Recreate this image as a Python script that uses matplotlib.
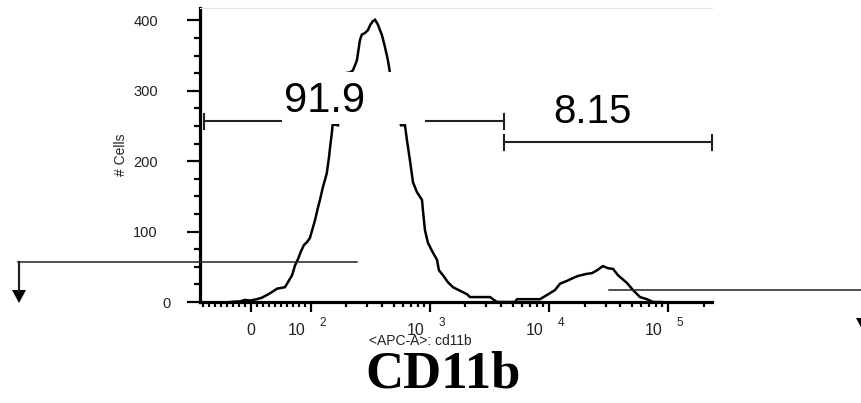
import matplotlib
matplotlib.use('Agg')
import matplotlib.pyplot as plt
from matplotlib.lines import Line2D
from matplotlib.patches import Rectangle, Polygon
from matplotlib.ticker import FixedLocator
import matplotlib.transforms as mtransforms

# ---------------- data ----------------
cd11b_x = [-35, -18, -10, -2, 10, 18, 27, 35, 44, 57, 62, 69, 74, 79, 84, 89, 94, 99,
           109, 115, 120, 127, 137, 143, 146, 151, 153, 160, 170, 182, 195, 214, 227,
           245, 260, 270, 286, 303, 316, 334, 348, 368, 398, 422, 447, 465, 521, 575,
           621, 645, 684, 725, 783, 863, 879, 914, 968, 1067, 1153, 1198, 1294, 1426,
           1571, 1798, 2061, 2185, 3215, 3470, 3680, 5212, 5420, 8453, 9680, 11300,
           12440, 14240, 15990, 17620, 20950, 23080, 25430, 28550, 31450, 34660, 38190,
           45420, 51000, 58400, 66800, 75100, 87500]
cell_counts = [0, 1, 3, 2, 4, 6, 10, 14, 19, 21, 28, 38, 52, 61, 72, 81, 85, 91,
               116, 133, 145, 163, 183, 206, 220, 240, 251, 252, 251, 290, 325, 326, 329,
               343, 372, 380, 382, 386, 393, 399, 401, 394, 379, 362, 343, 325, 286, 251,
               251, 230, 201, 170, 156, 145, 130, 102, 84, 70, 60, 45, 38, 28,
               21, 16, 11, 7, 7, 3, 0, 0, 4, 4, 10, 17,
               26, 30, 34, 37, 40, 41, 45, 51, 48, 47, 38,
               27, 17, 7, 4, 0, 0]

gate_names = ["91.9", "8.15"]
gate_lo = [-79, 4210]
gate_hi = [4210, 234800]
gate_y = [257, 227]
gate_cap = 10.6

ytick_vals = [0, 100, 200, 300, 400]
ytick_labels = ["0", "100", "200", "300", "400"]
xtick_major = [0, 1e2, 1e3, 1e4, 1e5]
xtick_exps = [None, "2", "3", "4", "5"]
xtick_minor = ([-80, -70, -60, -50, -40, -30, -20, -10, 10, 20, 30, 40, 50, 60, 70, 80, 90]
               + [m * 10 ** k for k in (2, 3, 4) for m in range(2, 10)] + [2e5])

# ---------------- figure ----------------
W, H = 861, 403
fig = plt.figure(figsize=(W / 100, H / 100), dpi=100)
plt.rcParams['font.family'] = ['Liberation Sans', 'DejaVu Sans']


def fx(p):
    return p / W


def fy(p):
    return 1 - p / H


ax = fig.add_axes([fx(200), fy(302), 512 / W, 294 / H])
ax.set_xscale('symlog', linthresh=100, linscale=0.45)
ax.set_xlim(-85.6, 2.35e5)
ax.set_ylim(0, 417.6)

ax.plot(cd11b_x, cell_counts, color='black', lw=1.8, zorder=2, solid_joinstyle='miter')

# white box behind 91.9 label
ax.add_patch(Rectangle((52, 252.5), 914 - 52, 326 - 252.5, facecolor='white',
                       edgecolor='none', zorder=3))

for lo, hi, gy in zip(gate_lo, gate_hi, gate_y):
    ax.plot([lo, hi], [gy, gy], color='#222222', lw=1.5, zorder=2.5, clip_on=False)
    for xv in (lo, hi):
        ax.plot([xv, xv], [gy - gate_cap, gy + gate_cap], color='#222222', lw=1.5,
                zorder=2.5, clip_on=False)

fig.text(fx(325), fy(112), gate_names[0], fontsize=30, ha='center', va='baseline',
         color='black', zorder=5)
fig.text(fx(592), fy(123), gate_names[1], fontsize=29, ha='center', va='baseline',
         color='black', zorder=5)

# spines
for s in ('left', 'bottom'):
    ax.spines[s].set_linewidth(2.3)
ax.spines['right'].set_visible(False)
ax.spines['top'].set_color('#e4e4e4')
ax.spines['top'].set_linewidth(0.8)

# y ticks
ax.set_yticks(ytick_vals)
ax.set_yticklabels(ytick_labels, fontsize=10.5, color='#222222')
ax.yaxis.set_minor_locator(FixedLocator([v for v in range(25, 400, 25) if v % 100]))
ax.tick_params(axis='y', which='major', length=9.4, width=1.6, pad=21)
ax.tick_params(axis='y', which='minor', length=4.3, width=1.6)
ax.yaxis.get_major_ticks()[0].set_pad(12)

# x ticks
ax.set_xticks(xtick_major)
ax.set_xticklabels([''] * len(xtick_major))
ax.xaxis.set_minor_locator(FixedLocator(xtick_minor))
ax.tick_params(axis='x', which='major', length=7.2, width=1.6)
ax.tick_params(axis='x', which='minor', length=3.6, width=1.6)

blend = mtransforms.blended_transform_factory(ax.transData, ax.transAxes)
for xv, ex in zip(xtick_major, xtick_exps):
    if ex is None:
        ax.text(xv, 0, "0", transform=mtransforms.offset_copy(blend, fig=fig, x=0, y=-33, units='dots'),
                ha='center', va='baseline', fontsize=11.5, color='#222222')
    else:
        ax.text(xv, 0, "10", transform=mtransforms.offset_copy(blend, fig=fig, x=-5, y=-33, units='dots'),
                ha='right', va='baseline', fontsize=11.5, color='#222222')
        ax.text(xv, 0, ex, transform=mtransforms.offset_copy(blend, fig=fig, x=9, y=-24, units='dots'),
                ha='left', va='baseline', fontsize=8.5, color='#222222')

fig.text(fx(420), fy(345), "<APC-A>: cd11b", fontsize=10, ha='center', va='baseline',
         color='#222222')
fig.text(fx(121), fy(155), "# Cells", fontsize=10, rotation=90, ha='center', va='center',
         color='#222222')
fig.text(fx(443), fy(387), "CD11b", fontsize=38, fontweight='bold',
         family=['Liberation Serif', 'DejaVu Serif'], ha='center', va='baseline', color='black')

# overlay arrows (figure decorations)
fig.add_artist(Line2D([fx(18), fx(357)], [fy(262), fy(262)], color='#222222', lw=1.1,
                      transform=fig.transFigure))
fig.add_artist(Line2D([fx(19), fx(19)], [fy(262), fy(291)], color='#222222', lw=1.6,
                      transform=fig.transFigure))
fig.add_artist(Polygon([[fx(12), fy(290)], [fx(26), fy(290)], [fx(19), fy(303)]],
                       closed=True, facecolor='black', edgecolor='none', transform=fig.transFigure))
fig.add_artist(Line2D([fx(609), fx(861)], [fy(290), fy(290)], color='#222222', lw=1.1,
                      transform=fig.transFigure))
fig.add_artist(Polygon([[fx(856), fy(318)], [fx(870), fy(318)], [fx(863), fy(331)]],
                       closed=True, facecolor='black', edgecolor='none', transform=fig.transFigure))

fig.savefig('out.png', dpi=100)
